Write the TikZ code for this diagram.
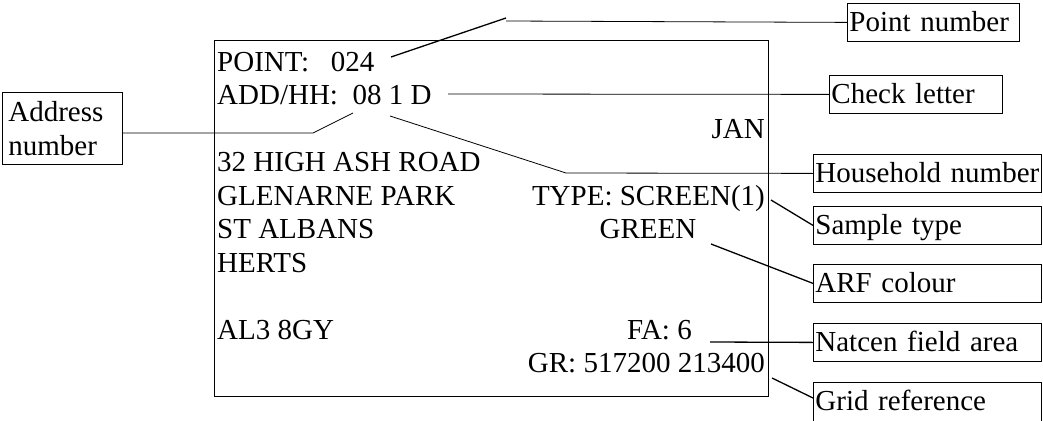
\documentclass[tikz,border=0pt]{standalone}
\usepackage{fontspec}
\setmainfont{Liberation Serif}
\usetikzlibrary{calc}
\begin{document}
\begin{tikzpicture}[x=1pt,y=-1pt,
  txt/.style={inner sep=0pt, font=\fontsize{29}{34}\selectfont},
  lbl/.style={draw, line width=0.8pt, anchor=north west, inner xsep=2pt, inner ysep=5pt,
    text height=23pt, text depth=5pt, align=left, font=\fontsize{29}{34}\selectfont},
  conn/.style={line width=0.8pt},
  bold/.style={line width=1.3pt}]
\useasboundingbox (0,0) rectangle (1043,420);
% card
\node[draw, line width=0.9pt, anchor=north west, minimum width=554pt, minimum height=356pt, inner sep=0pt] (card) at (214,40) {};
% card texts
\node[txt, anchor=base west] (point) at (217,71) {POINT:\ \ \ 024};
\node[txt, anchor=base west] (addhh) at (217,104.5) {ADD/HH:\ \ 08 1 D};
\node[txt, anchor=base east] (jan) at (765,138) {JAN};
\node[txt, anchor=base west] (l1) at (217,171.5) {32 HIGH ASH ROAD};
\node[txt, anchor=base west] (l2) at (217,205) {GLENARNE PARK};
\node[txt, anchor=base west] (l3) at (217,238.5) {ST ALBANS};
\node[txt, anchor=base west] (l4) at (217,272) {HERTS};
\node[txt, anchor=base west] (l5) at (217,339) {AL3 8GY};
\node[txt, anchor=base east] (type) at (765,205) {TYPE: SCREEN(1)};
\node[txt, anchor=base] (green) at (648,238.5) {GREEN};
\node[txt, anchor=base east] (fa) at (692,339) {FA: 6};
\node[txt, anchor=base east] (gr) at (765,372.5) {GR: 517200 213400};
% label boxes
\node[lbl, text width=168pt] (pn) at (847,3) {Point number};
\node[lbl, text width=169pt] (cl) at (829,75) {Check letter};
\node[lbl, text width=224pt] (hh) at (813,154) {Household number};
\node[lbl, text width=224pt] (st) at (813,206) {Sample type};
\node[lbl, text width=224pt] (arf) at (813,264) {ARF colour};
\node[lbl, text width=224pt] (nf) at (813,323) {Natcen field area};
\node[lbl, text width=224pt, text depth=11pt] (grid) at (813,382) {Grid reference};
\node[draw, line width=0.8pt, anchor=north west, inner xsep=6pt, inner ysep=0pt,
  minimum height=72pt, text width=108pt, align=left, font=\fontsize{29}{34}\selectfont] (addr) at (2,92) {Address\\number};
% connector points
\coordinate (p1) at (391,57);
\coordinate (p2) at (506,18);
\coordinate (p3) at (506,21);
\coordinate (c1) at (448,94);
\coordinate (h1) at (390,116);
\coordinate (h2) at (566,173);
\coordinate (a1) at (353,113);
\coordinate (a2) at (313,133);
\coordinate (s1) at (771,200);
\coordinate (g1) at (711,244);
\coordinate (f1) at (710,342);
\coordinate (r1) at (772,378);
% connectors
\draw[bold] (p1) -- (p2);
\draw[conn] (p3) -- (pn.west);
\draw[conn] (c1) -- (cl.west);
\draw[conn] (h1) -- (h2) -- (hh.west);
\draw[conn] (a1) -- (a2) -- (addr.east |- a2);
\draw[bold] (s1) -- (st.west);
\draw[bold] (g1) -- (arf.west);
\draw[bold] (f1) -- (nf.west);
\draw[bold] (r1) -- ($(grid.north west)+(0,16)$);
\end{tikzpicture}
\end{document}
